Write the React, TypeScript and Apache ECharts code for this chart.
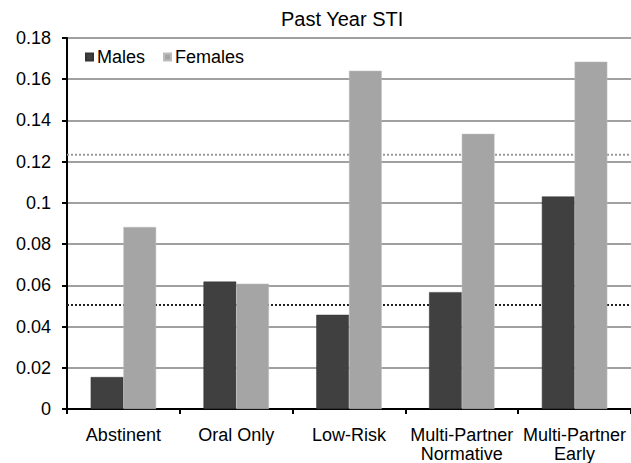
import React, { useEffect, useRef } from "react";
import * as echarts from "echarts";

const categories = ["Abstinent", "Oral Only", "Low-Risk", "Multi-Partner\nNormative", "Multi-Partner\nEarly"];
const males = [0.0155, 0.0618, 0.0457, 0.0567, 0.1031];
const females = [0.0883, 0.0608, 0.1641, 0.1335, 0.1685];
const refMales = 0.0505;
const refFemales = 0.1234;
const yTicks = { min: 0, max: 0.18, interval: 0.02 };

const FONT = "'Liberation Sans', Arial, sans-serif";

export default function App() {
  const ref = useRef<HTMLDivElement>(null);
  useEffect(() => {
    if (!ref.current) return;
    const chart = echarts.init(ref.current, null, { renderer: "svg" });
    const refLine = (name: string, v: number, color: string) => ({
      name,
      type: "line",
      xAxisIndex: 1,
      z: 1,
      silent: true,
      symbol: "none",
      data: [
        [0, v],
        [1, v],
      ],
      lineStyle: { color, type: [2, 2], width: 2 },
    });
    chart.setOption({
      animation: false,
      backgroundColor: "#ffffff",
      textStyle: { fontFamily: FONT },
      title: {
        text: "Past Year STI",
        left: 281,
        top: 9,
        padding: 0,
        textStyle: { fontFamily: FONT, fontSize: 20, fontWeight: "normal", color: "#000" },
      },
      legend: {
        left: 85,
        top: 48,
        padding: 0,
        itemWidth: 7,
        itemHeight: 7,
        itemGap: 18,
        icon: "rect",
        textStyle: { fontFamily: FONT, fontSize: 18, color: "#000", padding: [0, 0, 0, -1] },
        data: ["Males", "Females"],
      },
      grid: { left: 67, top: 38, width: 568, height: 371.3, containLabel: false },
      xAxis: [
        {
          type: "category",
          data: categories,
          axisLine: { lineStyle: { color: "#000", width: 2 } },
          axisTick: { show: true, length: 5, lineStyle: { color: "#000", width: 2 } },
          axisLabel: {
            fontFamily: FONT,
            fontSize: 18,
            color: "#000",
            margin: 16,
            lineHeight: 19,
            interval: 0,
          },
          splitLine: { show: false },
        },
        {
          type: "value",
          min: 0,
          max: 1,
          show: false,
        },
      ],
      yAxis: {
        type: "value",
        min: yTicks.min,
        max: yTicks.max,
        interval: yTicks.interval,
        axisLine: { show: true, lineStyle: { color: "#000", width: 2 } },
        axisTick: { show: true, length: 5, lineStyle: { color: "#000", width: 2 } },
        axisLabel: {
          fontFamily: FONT,
          fontSize: 18,
          color: "#000",
          margin: 16,
          formatter: (v: number) => String(parseFloat(v.toFixed(2))),
        },
        splitLine: { show: true, lineStyle: { color: "#a0a0a0", width: 2 } },
      },
      series: [
        {
          name: "Males",
          type: "bar",
          data: males,
          barGap: "0%",
          barCategoryGap: "42%",
          z: 2,
          itemStyle: { color: "#404040", borderColor: "#333333", borderWidth: 0.5 },
        },
        {
          name: "Females",
          type: "bar",
          data: females,
          barGap: "0%",
          barCategoryGap: "42%",
          z: 2,
          itemStyle: { color: "#a5a5a5", borderColor: "#bdbdbd", borderWidth: 0.5 },
        },
        refLine("Males average", refMales, "#222222"),
        refLine("Females average", refFemales, "#999999"),
      ],
    });
    return () => chart.dispose();
  }, []);
  return (
    <div
      ref={ref}
      style={{ position: "fixed", left: 0, top: 0, width: 631, height: 463 }}
    />
  );
}
